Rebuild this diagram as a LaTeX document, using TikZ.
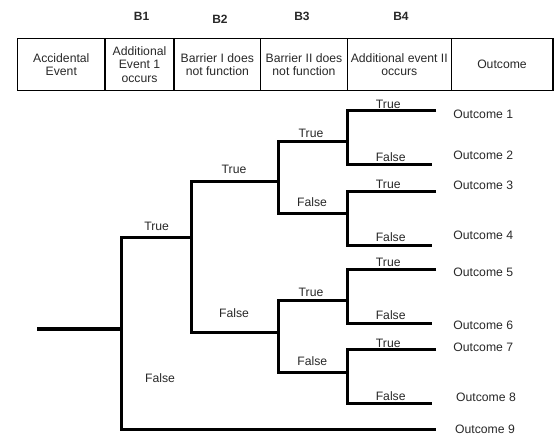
\documentclass[tikz,border=0pt]{standalone}
\usepackage{fontspec}
\setmainfont{Liberation Sans}
\definecolor{inkgray}{RGB}{40,40,40}
\tikzset{
  lbl/.style={text=inkgray, font=\fontsize{12.2}{13.2}\selectfont, inner sep=0pt},
  head/.style={lbl, align=center},
  bhead/.style={lbl, font=\fontsize{12}{13}\selectfont\bfseries},
  branch/.style={line width=3pt, line cap=butt, line join=miter},
}
\begin{document}
\begin{tikzpicture}[x=1pt, y=-1pt]
    \useasboundingbox (0,0) rectangle (555,435);

    % barrier titles
    \node[bhead] (b1) at (141.6,16) {B1};
    \node[bhead] (b2) at (220,19.5) {B2};
    \node[bhead] (b3) at (302,16) {B3};
    \node[bhead] (b4) at (401,16) {B4};

    % header table
    \draw[line width=1.3pt] (17.7,38.3) rectangle (553,90.7);
    \draw[line width=1.3pt] (105,38.3) -- (105,90.7);
    \draw[line width=1.3pt] (174,38.3) -- (174,90.7);
    \draw[line width=1.3pt] (260.7,38.3) -- (260.7,90.7);
    \draw[line width=1.3pt] (347.3,38.3) -- (347.3,90.7);
    \draw[line width=1.3pt] (451.3,38.3) -- (451.3,90.7);

    \node[head] (accident) at (61.3,64.5) {Accidental\\Event};
    \node[head] (addone) at (139.5,64.5) {Additional\\Event 1\\occurs};
    \node[head] (barone) at (217.3,64.5) {Barrier I does\\not function};
    \node[head] (bartwo) at (304,64.5) {Barrier II does\\not function};
    \node[head] (addtwo) at (399.3,64.5) {Additional event II\\occurs};
    \node[head] (outhead) at (502,64.5) {Outcome};

    % branch points
    \coordinate (start) at (37,329);
    \coordinate (n1) at (121.7,329);
    \coordinate (n2) at (191.7,237.7);
    \coordinate (n3a) at (278.3,181.7);
    \coordinate (n3b) at (278.3,332.3);
    \coordinate (n4a) at (347.3,141.7);
    \coordinate (n4b) at (347.3,213.3);
    \coordinate (n4c) at (347.3,300.7);
    \coordinate (n4d) at (347.3,372.7);

    % root
    \draw[line width=4pt] (start) -- (n1);

    % B1
    \draw[branch] (n2) -| (n1) |- (436,430);
    \node[lbl] (t1) at (156.7,226.7) {True};
    \node[lbl] (f1) at (160,378) {False};

    % B2
    \draw[branch] (n3a) -| (n2) |- (n3b);
    \node[lbl] (t2) at (234,169) {True};
    \node[lbl] (f2) at (234,313) {False};

    % B3
    \draw[branch] (n4a) -| (n3a) |- (n4b);
    \draw[branch] (n4c) -| (n3b) |- (n4d);
    \node[lbl] (t3a) at (311,133) {True};
    \node[lbl] (f3a) at (312,202.3) {False};
    \node[lbl] (t3b) at (311,292.3) {True};
    \node[lbl] (f3b) at (312.3,360.7) {False};

    % B4
    \draw[branch] (436,110.7) -| (n4a) |- (432,165);
    \draw[branch] (436,191.7) -| (n4b) |- (432,245.7);
    \draw[branch] (436,269.3) -| (n4c) |- (432,323.3);
    \draw[branch] (436,350) -| (n4d) |- (432,404);
    \node[lbl] (t4a) at (388.3,104) {True};
    \node[lbl] (f4a) at (390.7,156.7) {False};
    \node[lbl] (t4b) at (388.3,184.3) {True};
    \node[lbl] (f4b) at (390.7,237) {False};
    \node[lbl] (t4c) at (388.3,262.3) {True};
    \node[lbl] (f4c) at (390.7,315.3) {False};
    \node[lbl] (t4d) at (388.3,343.3) {True};
    \node[lbl] (f4d) at (390.7,395.7) {False};

    % outcomes
    \node[lbl] (o1) at (483.3,114) {Outcome 1};
    \node[lbl] (o2) at (483.3,155) {Outcome 2};
    \node[lbl] (o3) at (483.3,185) {Outcome 3};
    \node[lbl] (o4) at (483.3,235.7) {Outcome 4};
    \node[lbl] (o5) at (483.3,272.3) {Outcome 5};
    \node[lbl] (o6) at (483.3,325) {Outcome 6};
    \node[lbl] (o7) at (483.3,347.7) {Outcome 7};
    \node[lbl] (o8) at (486,397.3) {Outcome 8};
    \node[lbl] (o9) at (485,429.3) {Outcome 9};
\end{tikzpicture}
\end{document}
